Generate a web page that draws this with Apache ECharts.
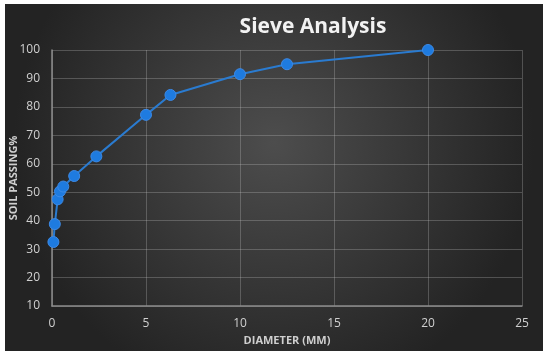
<!DOCTYPE html>
<html><head><meta charset="utf-8">
<script src="https://cdn.jsdelivr.net/npm/echarts@6/dist/echarts.min.js"></script>
<style>html,body{margin:0;padding:0;background:#fff}#c{width:550px;height:358px}</style>
</head><body><div id="c"></div>
<script>
const title = "Sieve Analysis";
const xName = "DIAMETER (MM)";
const yName = "SOIL PASSING%";
const diameter = [0.075, 0.15, 0.3, 0.425, 0.6, 1.18, 2.36, 5, 6.3, 10, 12.5, 20];
const passing = [32.5, 38.8, 47.5, 50.3, 52, 55.7, 62.6, 77.2, 84.2, 91.5, 95, 100];

const chart = echarts.init(document.getElementById('c'));
chart.setOption({
  backgroundColor: '#ffffff',
  animation: false,
  graphic: [{
    type: 'rect', z: -10, silent: true,
    shape: { x: 5, y: 4, width: 538, height: 347 },
    style: {
      fill: { type: 'radial', x: 0.5, y: 0.4, r: 0.75,
        colorStops: [{ offset: 0, color: '#4d4d4d' }, { offset: 1, color: '#232323' }] }
    }
  }, {
    type: 'text', silent: true, z: 10,
    x: 14, y: 178, rotation: Math.PI / 2,
    style: {
      text: yName, fill: '#cfcfcf', font: 'bold 11px "Open Sans"',
      textAlign: 'center', textVerticalAlign: 'middle'
    }
  }],
  title: {
    text: title, left: 308, top: 12, textAlign: 'center',
    textStyle: { color: '#f2f2f2', fontFamily: 'Open Sans', fontWeight: 'bold', fontSize: 21 }
  },
  grid: { left: 52, right: 28, top: 50, bottom: 52, outerBoundsMode: 'none', containLabel: false },
  xAxis: {
    type: 'value', min: 0, max: 25, interval: 5,
    name: xName, nameLocation: 'middle', nameGap: 27,
    nameTextStyle: { color: '#cfcfcf', fontFamily: 'Open Sans', fontWeight: 'bold', fontSize: 11 },
    axisLine: { show: true, lineStyle: { color: '#8c8c8c', width: 1.5 } },
    axisTick: { show: false },
    axisLabel: { color: '#d0d0d0', fontFamily: 'Open Sans', fontSize: 12, margin: 12 },
    splitLine: { show: true, lineStyle: { color: 'rgba(200,200,200,0.28)', width: 1 } }
  },
  yAxis: {
    type: 'value', min: 10, max: 100, interval: 10,
    axisLine: { show: true, lineStyle: { color: '#8c8c8c', width: 1.5 } },
    axisTick: { show: false },
    axisLabel: { color: '#d0d0d0', fontFamily: 'Open Sans', fontSize: 12, margin: 12 },
    splitLine: { show: true, lineStyle: { color: 'rgba(200,200,200,0.28)', width: 1 } }
  },
  series: [{
    type: 'line',
    data: diameter.map((d, i) => [d, passing[i]]),
    symbol: 'circle', symbolSize: 11,
    lineStyle: { color: '#2a7bd0', width: 2 },
    itemStyle: { color: '#1e7be0', borderColor: '#3d8ae6', borderWidth: 1 }
  }]
});
</script></body></html>
